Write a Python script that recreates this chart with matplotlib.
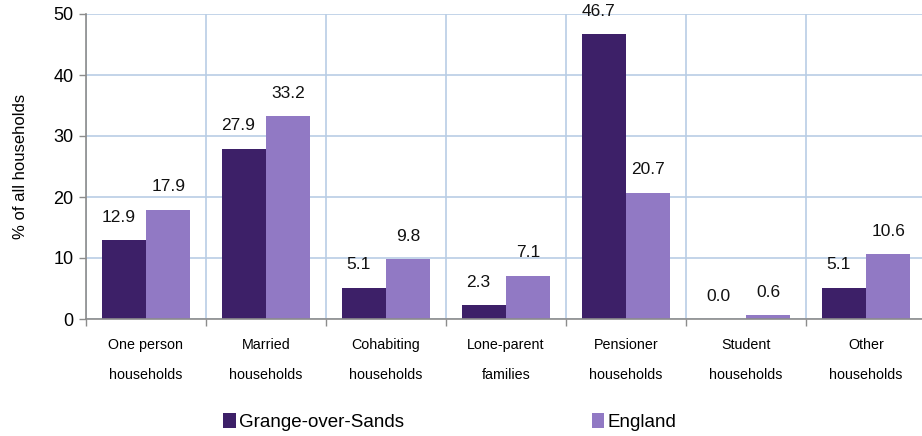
import matplotlib
matplotlib.use("Agg")
import matplotlib.pyplot as plt
import numpy as np
from matplotlib.patches import Patch

plt.rcParams['font.family'] = ['Liberation Sans', 'DejaVu Sans']

categories = ["One person\nhouseholds", "Married\nhouseholds", "Cohabiting\nhouseholds",
              "Lone-parent\nfamilies", "Pensioner\nhouseholds", "Student\nhouseholds",
              "Other\nhouseholds"]
grange = [12.9, 27.9, 5.1, 2.3, 46.7, 0.0, 5.1]
england = [17.9, 33.2, 9.8, 7.1, 20.7, 0.6, 10.6]
series_names = ["Grange-over-Sands", "England"]

dark = "#3D2068"
light = "#9179C4"
grid_c = "#B9CDE5"
spine_c = "#8C8C8C"

fig = plt.figure(figsize=(9.22, 4.36), dpi=100)
ax = fig.add_axes([86/922, (436-319)/436, (926-86)/922, (319-14)/436])

x = np.arange(len(categories))
w = 0.37
b1 = ax.bar(x - w/2, grange, w, color=dark, zorder=3)
b2 = ax.bar(x + w/2, england, w, color=light, zorder=3)

for xi, v in zip(x, grange):
    ax.annotate(f"{v:.1f}", (xi - w/2, v), xytext=(-4, 16.5), textcoords="offset points",
                ha="center", va="center", fontsize=12.5, color="#111111")
for xi, v in zip(x, england):
    ax.annotate(f"{v:.1f}", (xi + w/2, v), xytext=(0, 16.5), textcoords="offset points",
                ha="center", va="center", fontsize=12.5, color="#111111")

ax.set_xlim(-0.5, len(categories) - 0.5)
ax.set_ylim(0, 50)
ax.set_yticks(range(0, 51, 10))
ax.tick_params(axis='y', labelsize=13, length=5, color=spine_c, width=1, pad=4)

ax.set_xticks(x)
ax.set_xticklabels(categories, fontsize=10.3, linespacing=2.45)
ax.tick_params(axis='x', which='major', length=0, pad=14)
ax.set_xticks(np.arange(-0.5, len(categories), 1.0), minor=True)
ax.tick_params(axis='x', which='minor', length=5, color=spine_c, width=1)

ax.grid(True, which='minor', axis='x', color=grid_c, linewidth=1.2, zorder=0)
ax.grid(True, which='major', axis='y', color=grid_c, linewidth=1.2, zorder=0)
ax.set_axisbelow(True)

for s in ['top', 'right']:
    ax.spines[s].set_visible(False)
for s in ['left', 'bottom']:
    ax.spines[s].set_color(spine_c)
    ax.spines[s].set_linewidth(1.2)
    ax.spines[s].set_zorder(4)

ax.set_ylabel("% of all households", fontsize=12)
ax.yaxis.set_label_coords(-(86-28)/840, 0.5)

handles = [Patch(facecolor=dark), Patch(facecolor=light)]
fig.legend(handles, series_names, loc='center', bbox_to_anchor=(450/922, (436-422)/436),
           ncol=2, frameon=False, fontsize=13.5, handlelength=0.65, handleheight=0.8,
           handletextpad=0.2, columnspacing=10.0)

fig.savefig("out.png", dpi=100)
